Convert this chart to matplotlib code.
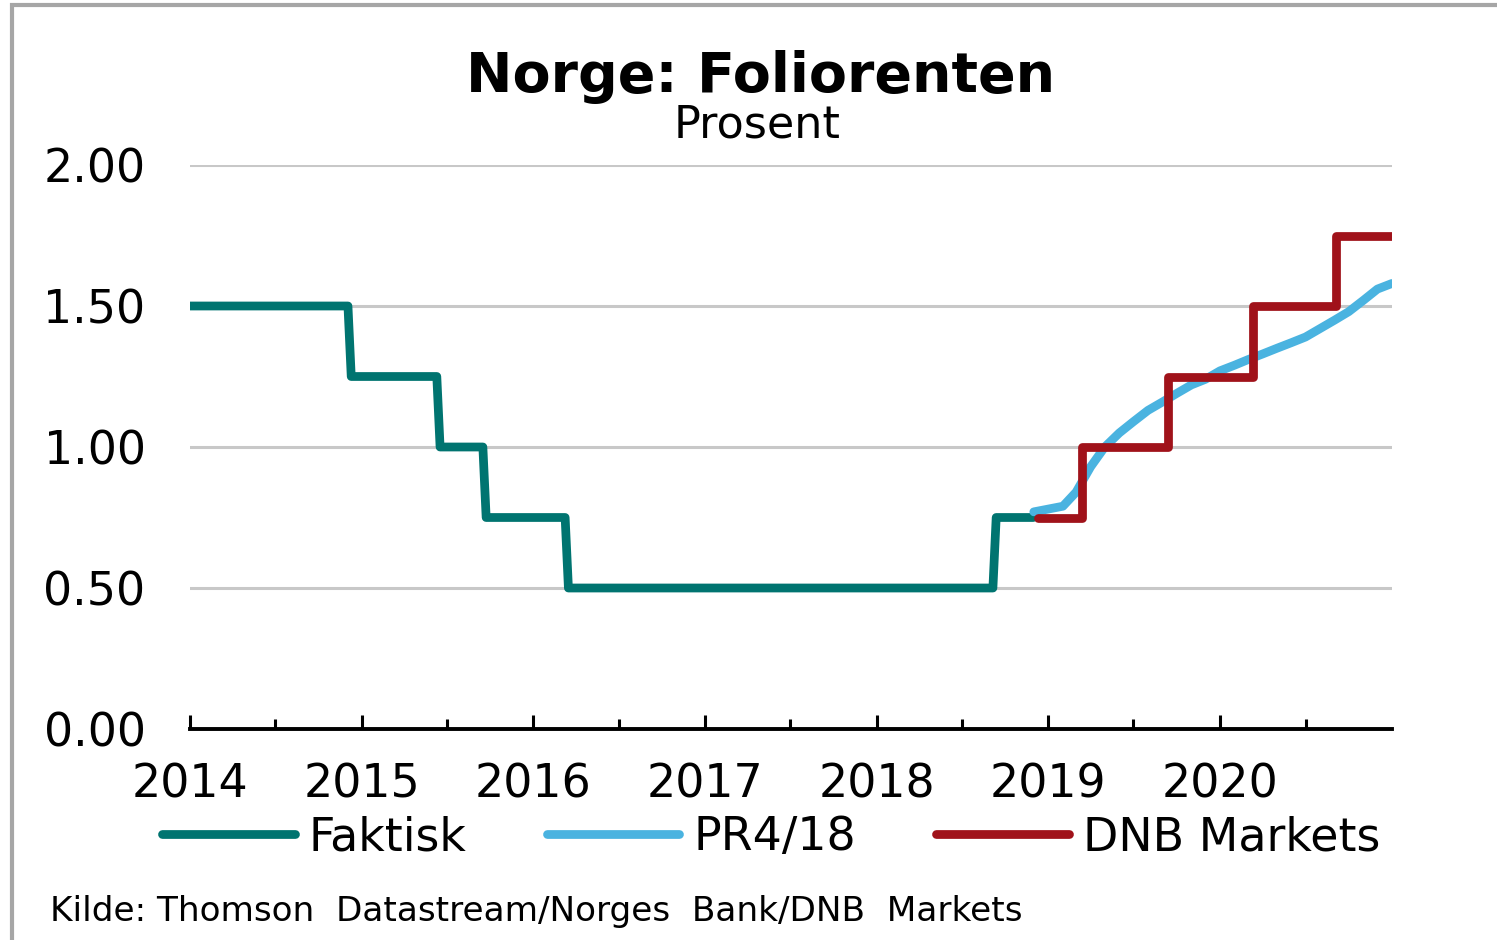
import pandas as pd
import matplotlib
matplotlib.use("Agg")
import matplotlib.pyplot as plt
import matplotlib.dates as mdates
from matplotlib.patches import Rectangle

# Faktisk foliorente (pairs of points around each rate change)
faktisk_dates = ["2014-01-01", "2014-12-03", "2014-12-10", "2015-06-10", "2015-06-17",
                 "2015-09-16", "2015-09-23", "2016-03-09", "2016-03-16", "2018-09-05",
                 "2018-09-12", "2018-11-30"]
faktisk_vals = [1.50, 1.50, 1.25, 1.25, 1.00, 1.00, 0.75, 0.75, 0.50, 0.50, 0.75, 0.75]

# Norges Bank PR4/18 path (monthly)
pr_dates = ["2018-12-01", "2019-01-01", "2019-02-01", "2019-03-01", "2019-04-01", "2019-05-01",
            "2019-06-01", "2019-07-01", "2019-08-01", "2019-09-01", "2019-10-01", "2019-11-01",
            "2019-12-01", "2020-01-01", "2020-02-01", "2020-03-01", "2020-04-01", "2020-05-01",
            "2020-06-01", "2020-07-01", "2020-08-01", "2020-09-01", "2020-10-01", "2020-11-01",
            "2020-12-01", "2021-01-01"]
pr_vals = [0.77, 0.78, 0.79, 0.84, 0.93, 1.00, 1.05, 1.09, 1.13, 1.16, 1.19, 1.22,
           1.24, 1.27, 1.29, 1.31, 1.33, 1.35, 1.37, 1.39, 1.42, 1.45, 1.48, 1.52,
           1.56, 1.58]

# DNB Markets forecast (step changes)
dnb_dates = ["2018-12-10", "2019-03-14", "2019-09-12", "2020-03-12", "2020-09-03", "2021-01-01"]
dnb_vals = [0.75, 1.00, 1.25, 1.50, 1.75, 1.75]

years = [2014, 2015, 2016, 2017, 2018, 2019, 2020]

plt.rcParams["font.family"] = "DejaVu Sans"

fig = plt.figure(figsize=(14.97, 9.40), dpi=100)
ax = fig.add_axes([190 / 1497, 1 - 729 / 940, (1392 - 190) / 1497, (729 - 165) / 940])

ax.plot(pd.to_datetime(faktisk_dates), faktisk_vals, color="#007470", lw=6.3,
        solid_joinstyle="round", solid_capstyle="round", label="Faktisk", zorder=3)
ax.plot(pd.to_datetime(pr_dates), pr_vals, color="#4ab3e0", lw=6.3,
        solid_joinstyle="round", solid_capstyle="round", label="PR4/18", zorder=4)
ax.plot(pd.to_datetime(dnb_dates), dnb_vals, color="#a0121a", lw=6.3, drawstyle="steps-post",
        solid_joinstyle="round", solid_capstyle="round", label="DNB Markets", zorder=5)

ax.set_xlim(pd.Timestamp("2014-01-01"), pd.Timestamp("2021-01-01"))
ax.set_ylim(0, 2.0)
ax.set_yticks([0, 0.5, 1.0, 1.5, 2.0])
ax.set_yticklabels(["0.00", "0.50", "1.00", "1.50", "2.00"])
ax.set_xticks(pd.to_datetime([f"{y}-01-01" for y in years]))
ax.set_xticks(pd.to_datetime([f"{y}-07-01" for y in years]), minor=True)
ax.xaxis.set_major_formatter(mdates.DateFormatter("%Y"))

for s in ["top", "right", "left"]:
    ax.spines[s].set_visible(False)
ax.spines["bottom"].set_linewidth(2.8)
ax.spines["bottom"].set_zorder(6)

ax.tick_params(axis="y", length=0, pad=32, labelsize=33)
ax.tick_params(axis="x", which="major", direction="in", length=10, width=2.2, pad=24, labelsize=33)
ax.tick_params(axis="x", which="minor", direction="in", length=7.5, width=2.2)

ax.yaxis.grid(True, color="#c8c8c8", lw=2.2)
ax.set_axisbelow(True)

fig.text(0.508, 1 - 77 / 940, "Norge: Foliorenten", ha="center", va="center",
         fontsize=40, fontweight="bold")
fig.text(0.506, 1 - 125 / 940, "Prosent", ha="center", va="center", fontsize=32)

fig.legend(loc="center", bbox_to_anchor=(0.515, 1 - 838 / 940), ncol=3, frameon=False,
           fontsize=33, handlelength=2.9, handletextpad=0.3, columnspacing=1.75)

fig.text(50 / 1497, 1 - 911 / 940, "Kilde: Thomson  Datastream/Norges  Bank/DNB  Markets",
         ha="left", va="center", fontsize=24.7)

fig.patches.append(Rectangle((12 / 1497, -0.1), 1.2, 1.1 - 5 / 940, transform=fig.transFigure,
                             fill=False, edgecolor="#a6a6a6", lw=3, figure=fig))

fig.savefig("out.png", dpi=100)
